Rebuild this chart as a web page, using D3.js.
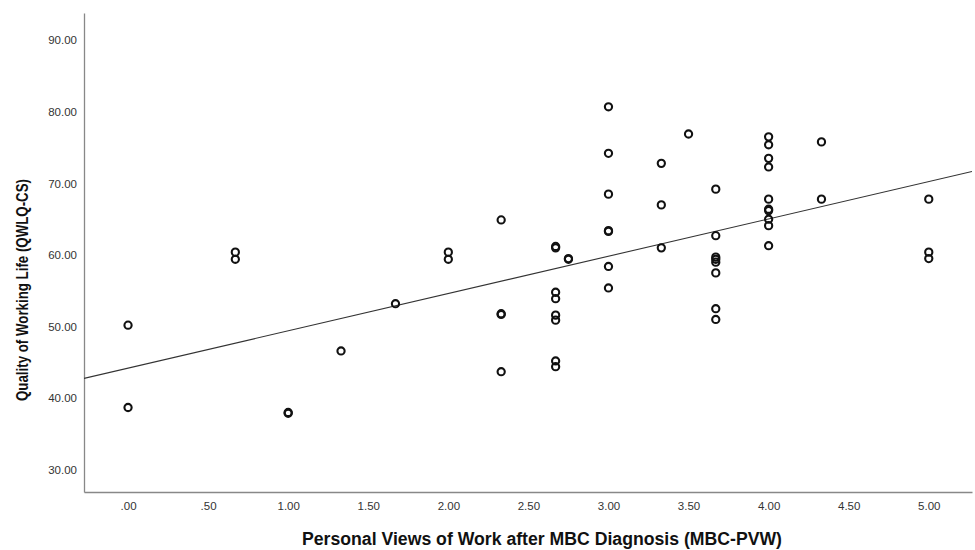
<!DOCTYPE html>
<html><head><meta charset="utf-8">
<script src="https://cdn.jsdelivr.net/npm/d3@7"></script>
<style>body{margin:0;background:#fff}svg{display:block}</style>
</head><body>
<script>
const xValues = [0,0, 0.67,0.67, 1,1, 1.33, 1.67, 2,2,
  2.33,2.33,2.33,2.33,
  2.67,2.67,2.67,2.67,2.67,2.67,2.67,2.67,
  2.75,2.75,
  3,3,3,3,3,3,3,
  3.33,3.33,3.33, 3.5,
  3.67,3.67,3.67,3.67,3.67,3.67,3.67,3.67,
  4,4,4,4,4,4,4,4,4,4,
  4.33,4.33, 5,5,5];
const yValues = [50.2,38.7, 60.4,59.4, 38.0,37.9, 46.6, 53.2, 60.4,59.4,
  64.9,51.8,51.7,43.7,
  61.2,61.0,54.8,53.9,51.6,50.9,45.2,44.4,
  59.5,59.4,
  80.7,74.2,68.5,63.4,63.3,58.4,55.4,
  72.8,67.0,61.0, 76.9,
  69.2,62.7,59.7,59.4,59.0,57.5,52.5,51.0,
  76.5,75.4,73.5,72.3,67.8,66.4,66.2,65.0,64.1,61.3,
  75.8,67.8, 67.8,60.4,59.5];
const fitLine = {intercept: 44.2, slope: 5.21};
const xTicks = [0,0.5,1,1.5,2,2.5,3,3.5,4,4.5,5];
const yTicks = [30,40,50,60,70,80,90];
const xTitle = "Personal Views of Work after MBC Diagnosis (MBC-PVW)";
const yTitle = "Quality of Working Life (QWLQ-CS)";

const W=975,H=550, m={l:84,t:13,r:3,b:58};
const svg=d3.select("body").append("svg").attr("width",W).attr("height",H);
const x=d3.scaleLinear().domain([-0.275,5.27]).range([m.l,W-m.r]);
const y=d3.scaleLinear().domain([26.9,93.8]).range([H-m.b,m.t]);
const fmt=v=>d3.format(".2f")(v).replace(/^0\./,".");

svg.append("defs").append("clipPath").attr("id","c").append("rect")
  .attr("x",m.l).attr("y",m.t).attr("width",W-m.l-m.r).attr("height",H-m.t-m.b);

const xa=svg.append("g").attr("transform",`translate(0,${H-m.b})`)
  .call(d3.axisBottom(x).tickValues(xTicks).tickFormat(fmt).tickSize(0).tickPadding(10));
const ya=svg.append("g").attr("transform",`translate(${m.l},0)`)
  .call(d3.axisLeft(y).tickValues(yTicks).tickFormat(d=>d3.format(".2f")(d)).tickSize(0).tickPadding(7));
[xa,ya].forEach(a=>{
  a.select(".domain").attr("stroke","#888").attr("stroke-width",1.3);
  a.selectAll("text").attr("font-family","Liberation Sans, Arial, sans-serif").attr("font-size",11.5).attr("fill","#333");
});

svg.append("line").attr("clip-path","url(#c)")
  .attr("x1",x(-0.275)).attr("y1",y(fitLine.intercept+fitLine.slope*-0.275))
  .attr("x2",x(5.27)).attr("y2",y(fitLine.intercept+fitLine.slope*5.27))
  .attr("stroke","#333").attr("stroke-width",1.1);

svg.append("g").selectAll("circle").data(xValues.map((v,i)=>[v,yValues[i]])).join("circle")
  .attr("cx",d=>x(d[0])).attr("cy",d=>y(d[1])).attr("r",3.6)
  .attr("fill","none").attr("stroke","#111").attr("stroke-width",2.1);

svg.append("text").attr("x",542).attr("y",545).attr("text-anchor","middle")
  .attr("font-family","Liberation Sans, Arial, sans-serif").attr("font-weight","bold")
  .attr("font-size",17.5).attr("fill","#111")
  .attr("textLength",480).attr("lengthAdjust","spacingAndGlyphs").text(xTitle);
svg.append("text").attr("transform","translate(28,290) rotate(-90)").attr("text-anchor","middle")
  .attr("font-family","Liberation Sans, Arial, sans-serif").attr("font-weight","bold")
  .attr("font-size",17).attr("fill","#111")
  .attr("textLength",222).attr("lengthAdjust","spacingAndGlyphs").text(yTitle);
</script>
</body></html>
